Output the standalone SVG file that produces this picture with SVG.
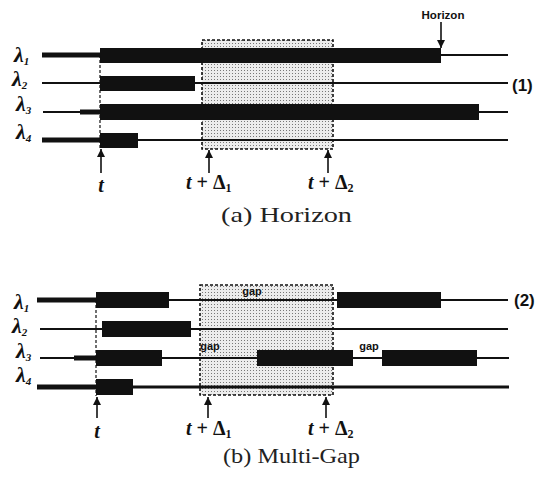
<svg xmlns="http://www.w3.org/2000/svg" width="545" height="482" viewBox="0 0 545 482">
<style>
.thin{stroke:#111;stroke-width:1.8;fill:none}
.thick{stroke:#111;stroke-width:5;fill:none}
.mid{stroke:#111;stroke-width:3;fill:none}
.bar{fill:#111}
.box{fill:url(#dots);stroke:#111;stroke-width:1.6;stroke-dasharray:3,2}
.tline{stroke:#111;stroke-width:1.2;stroke-dasharray:3,2;fill:none}
.arr{stroke:#111;stroke-width:1.6;fill:none;marker-end:url(#ah)}
.lam{font-family:"Liberation Serif",serif;font-style:italic;font-weight:bold;font-size:22px;fill:#111}
.lsub{font-size:11px}
.tl{font-family:"Liberation Serif",serif;font-weight:bold;font-size:20px;fill:#111}
.tsub{font-size:12px}
.cap{font-family:"Liberation Serif",serif;font-size:22px;fill:#222}
.num{font-family:"Liberation Sans",Arial,sans-serif;font-weight:bold;font-size:17px;fill:#111}
.small{font-family:"Liberation Sans",Arial,sans-serif;font-weight:bold;font-size:11px;fill:#111}
</style>
<defs>
<pattern id="dots" width="3" height="3" patternUnits="userSpaceOnUse">
<rect width="3" height="3" fill="#ececec"/>
<rect x="1" y="1" width="1" height="1" fill="#777"/>
</pattern>
<marker id="ah" viewBox="0 0 10 10" refX="10" refY="5" markerWidth="9" markerHeight="8" markerUnits="userSpaceOnUse" orient="auto">
<path d="M0,0 L10,5 L0,10 z" fill="#111"/>
</marker>
</defs>
<rect width="545" height="482" fill="#fff"/>

<!-- Panel (a) -->
<g id="boxA"><rect class="box" x="202" y="40" width="131" height="109"/></g>
<g id="a-l1">
<text class="lam" x="14" y="62">λ<tspan class="lsub" dy="3">1</tspan></text>
<line class="thick" x1="42" y1="55" x2="100" y2="55"/>
<rect class="bar" x="100" y="48" width="341" height="15"/>
<line class="thin" x1="441" y1="55" x2="508" y2="55"/>
</g>
<g id="a-l2">
<text class="lam" x="12" y="86">λ<tspan class="lsub" dy="3">2</tspan></text>
<line class="thin" x1="42" y1="83" x2="508" y2="83"/>
<rect class="bar" x="100" y="76" width="95" height="15"/>
</g>
<g id="a-l3">
<text class="lam" x="16" y="111">λ<tspan class="lsub" dy="3">3</tspan></text>
<line class="thin" x1="43" y1="112" x2="508" y2="112"/>
<line class="thick" x1="80" y1="112" x2="100" y2="112"/>
<rect class="bar" x="100" y="104" width="379" height="16"/>
</g>
<g id="a-l4">
<text class="lam" x="16" y="139">λ<tspan class="lsub" dy="3">4</tspan></text>
<line class="thick" x1="42" y1="140" x2="100" y2="140"/>
<line class="thin" x1="138" y1="140" x2="508" y2="140"/>
<rect class="bar" x="100" y="133" width="38" height="15"/>
</g>
<g id="a-labels">
<text class="small" x="443" y="19" text-anchor="middle" textLength="43" lengthAdjust="spacingAndGlyphs">Horizon</text>
<text class="num" x="512" y="91">(1)</text>
<text class="tl" x="101" y="192" text-anchor="middle" font-style="italic">t</text>
<text class="tl" x="186" y="189"><tspan font-style="italic">t</tspan> + Δ<tspan class="tsub" dy="3">1</tspan></text>
<text class="tl" x="308" y="189"><tspan font-style="italic">t</tspan> + Δ<tspan class="tsub" dy="3">2</tspan></text>
<text class="cap" x="221" y="222" textLength="131" lengthAdjust="spacingAndGlyphs">(a) Horizon</text>
</g>

<!-- Panel (b) -->
<g id="boxB"><rect class="box" x="200" y="285" width="133" height="110"/></g>
<g id="b-l1">
<text class="lam" x="14" y="309">λ<tspan class="lsub" dy="3">1</tspan></text>
<line class="thick" x1="37" y1="300" x2="96" y2="300"/>
<line class="thin" x1="169" y1="300" x2="508" y2="300"/>
<rect class="bar" x="96" y="292" width="73" height="16"/>
<rect class="bar" x="337" y="292" width="104" height="16"/>
</g>
<g id="b-l2">
<text class="lam" x="12" y="333">λ<tspan class="lsub" dy="3">2</tspan></text>
<line class="thin" x1="40" y1="329" x2="508" y2="329"/>
<rect class="bar" x="102" y="321" width="89" height="16"/>
</g>
<g id="b-l3">
<text class="lam" x="16" y="358">λ<tspan class="lsub" dy="3">3</tspan></text>
<line class="thin" x1="40" y1="358" x2="509" y2="358"/>
<line class="thick" x1="74" y1="358" x2="96" y2="358"/>
<rect class="bar" x="96" y="350" width="66" height="16"/>
<rect class="bar" x="257" y="350" width="96" height="16"/>
<rect class="bar" x="382" y="350" width="95" height="16"/>
</g>
<g id="b-l4">
<text class="lam" x="16" y="382">λ<tspan class="lsub" dy="3">4</tspan></text>
<line class="thick" x1="37" y1="387" x2="96" y2="387"/>
<line class="mid" x1="133" y1="387" x2="509" y2="387"/>
<rect class="bar" x="96" y="379" width="37" height="16"/>
</g>
<g id="b-labels">
<text class="small" x="252" y="295" text-anchor="middle">gap</text>
<text class="small" x="210" y="350" text-anchor="middle">gap</text>
<text class="small" x="369" y="350" text-anchor="middle">gap</text>
<text class="num" x="514" y="306">(2)</text>
<text class="tl" x="97" y="438" text-anchor="middle" font-style="italic">t</text>
<text class="tl" x="186" y="435"><tspan font-style="italic">t</tspan> + Δ<tspan class="tsub" dy="3">1</tspan></text>
<text class="tl" x="308" y="435"><tspan font-style="italic">t</tspan> + Δ<tspan class="tsub" dy="3">2</tspan></text>
<text class="cap" x="223" y="463" textLength="137" lengthAdjust="spacingAndGlyphs">(b) Multi-Gap</text>
</g>

<g id="connectors">
<line class="tline" x1="100" y1="55" x2="100" y2="150"/>
<line class="arr" x1="101" y1="173" x2="101" y2="149"/>
<line class="arr" x1="209" y1="173" x2="209" y2="150"/>
<line class="arr" x1="328" y1="173" x2="328" y2="150"/>
<line class="arr" x1="441" y1="22" x2="441" y2="48"/>
<line class="tline" x1="96" y1="300" x2="96" y2="396"/>
<line class="arr" x1="97" y1="418" x2="97" y2="397"/>
<line class="arr" x1="208" y1="418" x2="208" y2="397"/>
<line class="arr" x1="326" y1="418" x2="326" y2="397"/>
</g>
</svg>
